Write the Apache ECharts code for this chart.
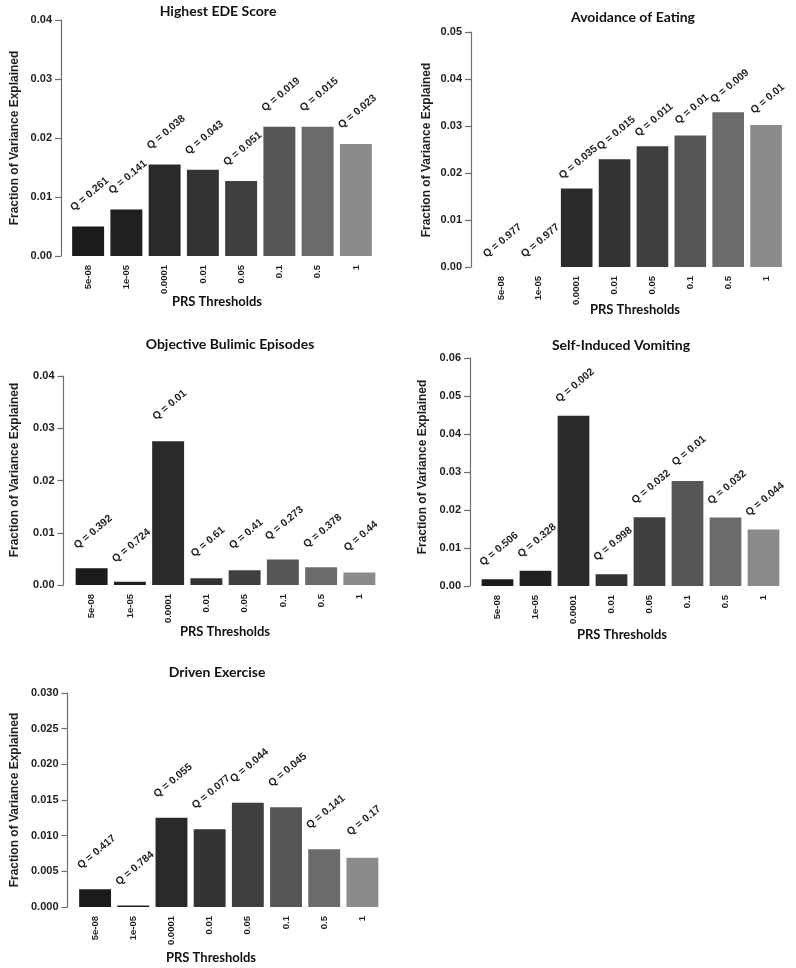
<!DOCTYPE html>
<html><head><meta charset="utf-8">
<script src="https://cdn.jsdelivr.net/npm/echarts@6/dist/echarts.min.js"></script>
<style>html,body{margin:0;padding:0;background:#fff}#c{width:796px;height:968px}</style>
</head><body><div id="c"></div>
<script>
// ---- data ----
const thresholds = ['5e-08', '1e-05', '0.0001', '0.01', '0.05', '0.1', '0.5', '1'];

const edeValues = [0.0050, 0.0079, 0.0155, 0.0146, 0.0127, 0.0219, 0.0219, 0.0190];
const edeQ = ['0.261', '0.141', '0.038', '0.043', '0.051', '0.019', '0.015', '0.023'];

const avoidValues = [0, 0, 0.0167, 0.0229, 0.0257, 0.0280, 0.0329, 0.0302];
const avoidQ = ['0.977', '0.977', '0.035', '0.015', '0.011', '0.01', '0.009', '0.01'];

const obeValues = [0.0032, 0.0006, 0.0275, 0.0013, 0.0028, 0.0049, 0.0034, 0.0024];
const obeQ = ['0.392', '0.724', '0.01', '0.61', '0.41', '0.273', '0.378', '0.44'];

const vomitValues = [0.0018, 0.0040, 0.0448, 0.0031, 0.0181, 0.0276, 0.0180, 0.0149];
const vomitQ = ['0.506', '0.328', '0.002', '0.998', '0.032', '0.01', '0.032', '0.044'];

const exerciseValues = [0.0025, 0.0002, 0.0125, 0.0109, 0.0146, 0.0140, 0.0081, 0.0069];
const exerciseQ = ['0.417', '0.784', '0.055', '0.077', '0.044', '0.045', '0.141', '0.17'];

const panelTitles = ['Highest EDE Score', 'Avoidance of Eating', 'Objective Bulimic Episodes', 'Self-Induced Vomiting', 'Driven Exercise'];
const yAxisTitle = 'Fraction of Variance Explained';
const xAxisTitle = 'PRS Thresholds';

// ---- styling / layout ----
const barColors = ['#1b1b1b', '#202020', '#2a2a2a', '#333333', '#3f3f3f', '#565656', '#6b6b6b', '#8b8b8b'];

const panels = [
  { values: edeValues, q: edeQ, yMax: 0.04, step: 0.01, dec: 2,
    grid: { left: 69, top: 20, width: 306, height: 236 }, axisOff: 8, labelDist: 31,
    title: [218, 11], xName: [217, 302], yName: [15, 138] },
  { values: avoidValues, q: avoidQ, yMax: 0.05, step: 0.01, dec: 2,
    grid: { left: 482, top: 32, width: 303, height: 235 }, axisOff: 11, labelDist: 25,
    title: [633, 17], xName: [635, 310], yName: [427, 150] },
  { values: obeValues, q: obeQ, yMax: 0.04, step: 0.01, dec: 2,
    grid: { left: 72.5, top: 376, width: 306, height: 209 }, axisOff: 9, labelDist: 35,
    title: [230, 344], xName: [225, 632], yName: [15, 470] },
  { values: vomitValues, q: vomitQ, yMax: 0.06, step: 0.01, dec: 2,
    grid: { left: 478.5, top: 358, width: 304, height: 228 }, axisOff: 8.5, labelDist: 29,
    title: [621, 345], xName: [622, 635], yName: [423, 467] },
  { values: exerciseValues, q: exerciseQ, yMax: 0.03, step: 0.005, dec: 3,
    grid: { left: 76, top: 693, width: 305.5, height: 214 }, axisOff: 8.5, labelDist: 36,
    title: [217, 672], xName: [211, 958], yName: [15, 800] }
];

const axisColor = '#6f6f6f';
const textColor = '#1e1e1e';

const option = {
  animation: false,
  backgroundColor: '#ffffff',
  grid: [], xAxis: [], yAxis: [], series: [], graphic: []
};

panels.forEach((p, i) => {
  option.grid.push(Object.assign({ containLabel: false }, p.grid));
  option.xAxis.push({
    type: 'category', gridIndex: i, data: thresholds,
    axisLine: { show: false }, axisTick: { show: false },
    axisLabel: { rotate: 90, margin: 9, fontSize: 9.5, fontWeight: 'bold', color: textColor,
                 fontFamily: '"Liberation Sans", Arial, sans-serif', interval: 0 }
  });
  option.yAxis.push({
    type: 'value', gridIndex: i, min: 0, max: p.yMax, interval: p.step,
    offset: p.axisOff,
    splitLine: { show: false },
    axisLine: { show: true, lineStyle: { color: axisColor, width: 1.2 } },
    axisTick: { show: true, length: 6, lineStyle: { color: axisColor, width: 1.2 } },
    axisLabel: { margin: 9, fontSize: 11, fontWeight: 'bold', color: textColor,
                 fontFamily: '"Liberation Sans", Arial, sans-serif',
                 formatter: v => v.toFixed(p.dec) }
  });
  option.series.push({
    type: 'bar', xAxisIndex: i, yAxisIndex: i,
    data: p.values.map((v, k) => ({ value: v, itemStyle: { color: barColors[k] } })),
    barCategoryGap: '16.5%',
    label: {
      show: true, position: 'top', distance: p.labelDist, offset: [2, 0],
      rotate: 40, align: 'center', verticalAlign: 'middle',
      fontSize: 10.5, fontWeight: 'bold', color: textColor,
      fontFamily: '"Liberation Sans", Arial, sans-serif',
      formatter: prm => 'Q = ' + p.q[prm.dataIndex]
    }
  });
  option.graphic.push({
    type: 'text', x: p.title[0], y: p.title[1],
    style: { text: panelTitles[i], align: 'center', verticalAlign: 'middle',
             font: 'bold 14px Lato, "Open Sans", sans-serif', fill: '#111' }
  });
  option.graphic.push({
    type: 'text', x: p.xName[0], y: p.xName[1],
    style: { text: xAxisTitle, align: 'center', verticalAlign: 'middle',
             font: 'bold 13px Lato, "Open Sans", sans-serif', fill: '#111' }
  });
  option.graphic.push({
    type: 'text', x: p.yName[0], y: p.yName[1], rotation: Math.PI / 2,
    style: { text: yAxisTitle, align: 'center', verticalAlign: 'middle',
             font: 'bold 12px "Liberation Sans", Arial, sans-serif', fill: textColor }
  });
});

const chart = echarts.init(document.getElementById('c'), null, { renderer: 'canvas' });
chart.setOption(option);
</script>
</body></html>
